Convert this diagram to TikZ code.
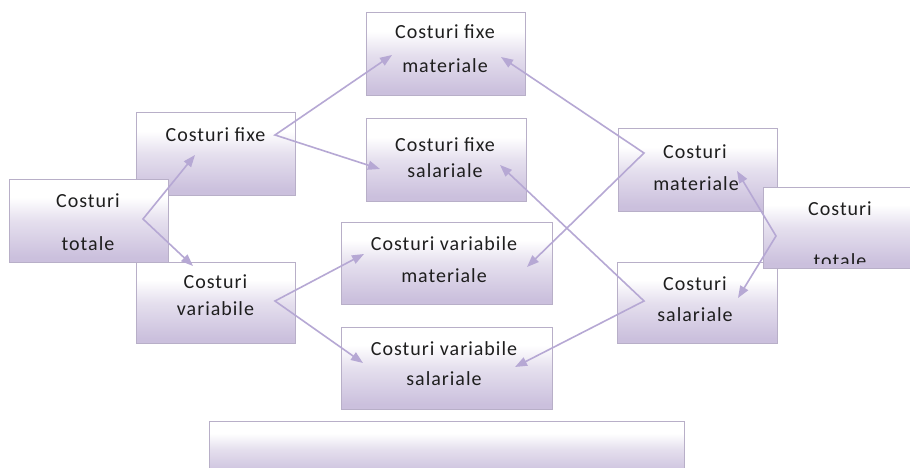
\documentclass[tikz,border=0pt]{standalone}
\usepackage{fontspec}
\setmainfont{Carlito}[LetterSpace=5]
\usetikzlibrary{arrows.meta}
\definecolor{lav}{RGB}{203,192,221}
\definecolor{boxborder}{RGB}{184,175,200}
\definecolor{linecol}{RGB}{182,168,212}
\definecolor{txt}{RGB}{30,30,30}
\pgfdeclareverticalshading{boxshade}{100bp}{color(0bp)=(lav); color(28bp)=(lav); color(50bp)=(lav!50!white); color(64bp)=(white); color(100bp)=(white)}
\tikzset{
  box/.style={draw=boxborder, line width=1pt, shading=boxshade, rectangle, inner sep=0pt},
  lbl/.style={font=\fontsize{20}{24}\selectfont, text=txt, inner sep=0pt, anchor=base},
  conn/.style={draw=linecol, line width=1.6pt, line join=miter,
    {Triangle[length=12pt,width=9pt,fill=linecol]}-{Triangle[length=12pt,width=9pt,fill=linecol]}}
}
\begin{document}
\begin{tikzpicture}[x=1pt,y=-1pt]
\clip (0,0) rectangle (910,468);
\fill[white] (0,0) rectangle (910,468);
% boxes
\node[box, minimum width=159pt, minimum height=82pt] (fixe) at (215.5,154) {};
\node[box, minimum width=159pt, minimum height=81pt] (var) at (215.5,302.5) {};
\node[box, minimum width=159pt, minimum height=83pt] (fm) at (445.5,54.5) {};
\node[box, minimum width=160pt, minimum height=82pt] (fs) at (446,160) {};
\node[box, minimum width=211pt, minimum height=82pt] (vm) at (446.5,263) {};
\node[box, minimum width=211pt, minimum height=82pt] (vs) at (446.5,368) {};
\node[box, minimum width=159pt, minimum height=83pt] (totL) at (88.5,220.5) {};
\node[box, minimum width=159pt, minimum height=82pt] (mat) at (697.5,170) {};
\node[box, minimum width=160pt, minimum height=81pt] (sal) at (697,302.5) {};
\node[box, minimum width=155pt, minimum height=81pt] (totR) at (840.5,227.5) {};
\node[box, minimum width=475pt, minimum height=56pt] (bot) at (446.5,449) {};
% texts
\node[lbl] (tL1) at (88,207) {Costuri};
\node[lbl] (tL2) at (88,250) {totale};
\node[lbl] (tF1) at (215.5,142) {Costuri fixe};
\node[lbl] (tV1) at (215.5,288) {Costuri};
\node[lbl] (tV2) at (215.5,315) {variabile};
\node[lbl] (tFM1) at (445,39) {Costuri fixe};
\node[lbl] (tFM2) at (445,73) {materiale};
\node[lbl] (tFS1) at (445,151) {Costuri fixe};
\node[lbl] (tFS2) at (445,177) {salariale};
\node[lbl] (tVM1) at (444,250) {Costuri variabile};
\node[lbl] (tVM2) at (444,282) {materiale};
\node[lbl] (tVS1) at (444,355) {Costuri variabile};
\node[lbl] (tVS2) at (444,385) {salariale};
\node[lbl] (tM1) at (695,158) {Costuri};
\node[lbl] (tM2) at (696,190) {materiale};
\node[lbl] (tS1) at (695,290) {Costuri};
\node[lbl] (tS2) at (695,321) {salariale};
\node[lbl] (tR1) at (840,215) {Costuri};
\begin{scope}
\clip (763,187) rectangle (910,263);
\node[lbl] (tR2) at (840,267) {totale};
\end{scope}
% connector points
\coordinate (vL) at (143,219);
\coordinate (aLF) at (195,155);
\coordinate (aLV) at (193,266);
\coordinate (vF) at (275,135);
\coordinate (aFM) at (392,55);
\coordinate (aFS) at (380,169);
\coordinate (vV) at (275,301);
\coordinate (aVM) at (364,254);
\coordinate (aVS) at (363,363);
\coordinate (vM) at (644,153);
\coordinate (bFM) at (501,57);
\coordinate (bVM) at (527,267);
\coordinate (vS) at (644,301);
\coordinate (bFS) at (500,165);
\coordinate (bVS) at (515,367);
\coordinate (vR) at (776,236);
\coordinate (aM) at (737,171);
\coordinate (aS) at (738,298);
% connectors
\draw[conn] (aLF) -- (vL) -- (aLV);
\draw[conn] (aFM) -- (vF) -- (aFS);
\draw[conn] (aVM) -- (vV) -- (aVS);
\draw[conn] (bFM) -- (vM) -- (bVM);
\draw[conn] (bFS) -- (vS) -- (bVS);
\draw[conn] (aM) -- (vR) -- (aS);
\end{tikzpicture}
\end{document}
